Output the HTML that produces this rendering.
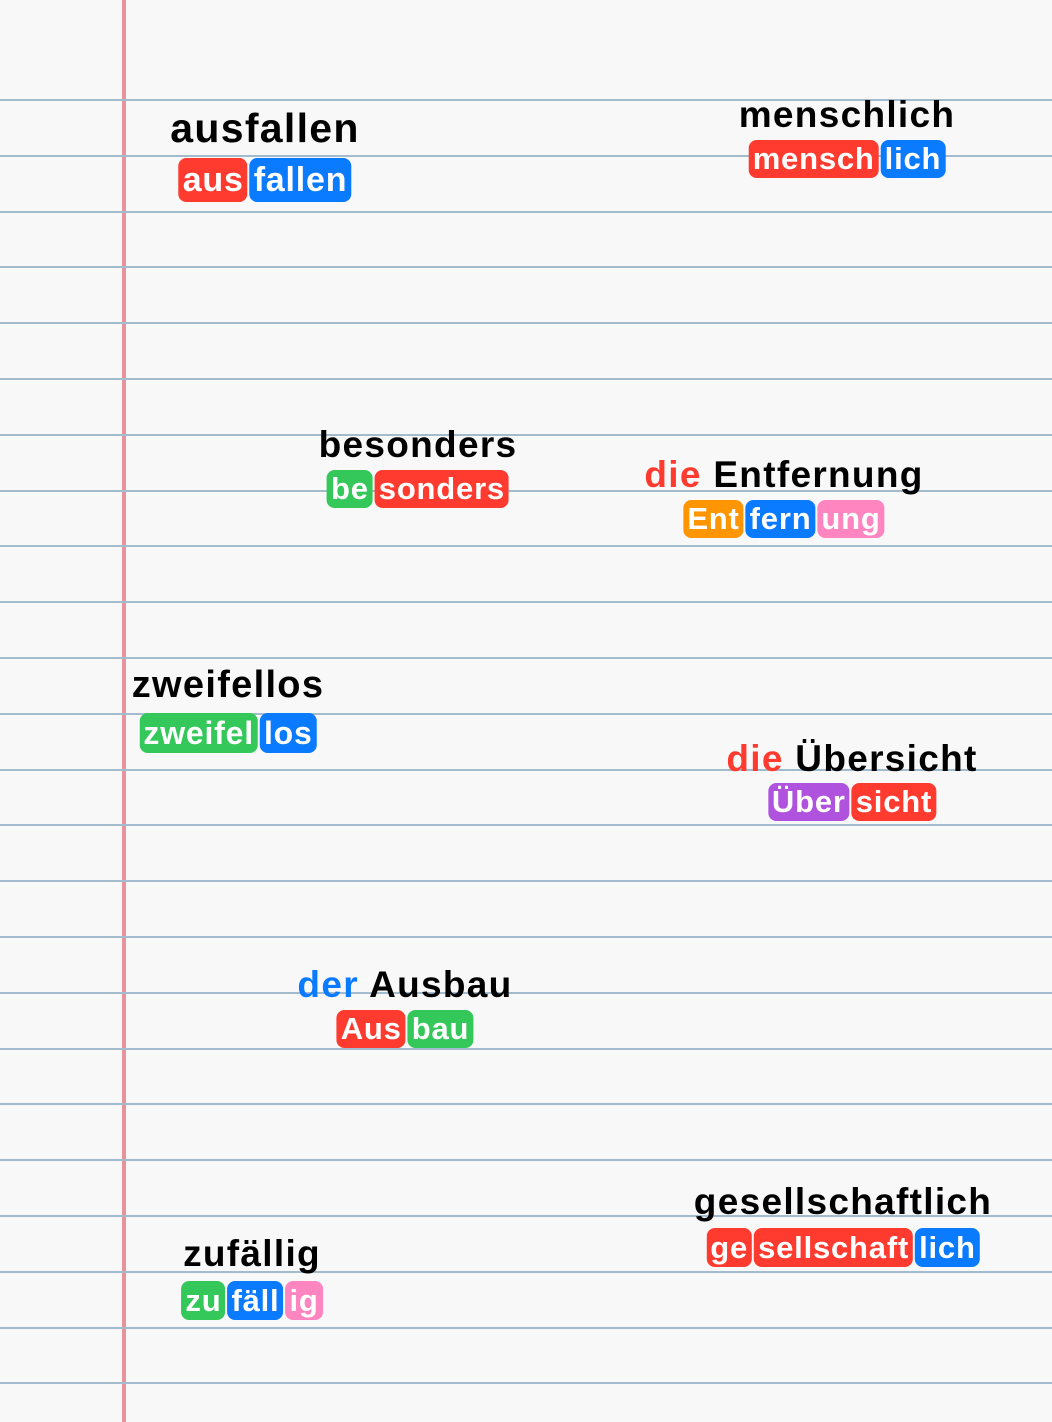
<!DOCTYPE html>
<html><head><meta charset="utf-8">
<style>
html,body{margin:0;padding:0;}
body{width:1052px;height:1422px;position:relative;overflow:hidden;background:#f8f8f8;font-family:"Liberation Sans",sans-serif;}
.hl{position:absolute;left:0;width:1052px;height:2px;background:#a3bccd;}
.margin{position:absolute;left:122px;top:0;width:4px;height:1422px;background:#e8939b;}
.entry{position:absolute;transform:translateX(-50%);display:flex;flex-direction:column;align-items:center;}
.title{font-weight:bold;white-space:nowrap;color:#000;line-height:1;letter-spacing:1.3px;}
.chips{display:flex;gap:2px;}
.chip{color:#fff;font-weight:bold;border-radius:8px;padding:0 4px;white-space:nowrap;display:flex;align-items:center;letter-spacing:0.8px;}
</style></head>
<body>
<div class="margin"></div>
<div id="lines"></div>
<div id="words"></div>
<script>
const lineCount = 24;
const linesEl = document.getElementById('lines');
for (let i = 0; i < lineCount; i++) {
  const l = document.createElement('div');
  l.className = 'hl';
  l.style.top = (99 + i * 55.8) + 'px';
  
  
  linesEl.appendChild(l);
}
const C = {r:'#ff3b30', b:'#0a7aff', g:'#34c759', o:'#ff9500', p:'#ff85c0', v:'#af52de'};
const words = [
  {x:265, ty:108, fs:41, art:null, word:'ausfallen', cy:158, ch:44, cfs:34, parts:[['aus','r'],['fallen','b']]},
  {x:847, ty:96, fs:37, art:null, word:'menschlich', cy:140, ch:38, cfs:31, parts:[['mensch','r'],['lich','b']]},
  {x:418, ty:426, fs:37, art:null, word:'besonders', cy:470, ch:38, cfs:31, parts:[['be','g'],['sonders','r']]},
  {x:784, ty:456, fs:37, art:['die','r'], word:'Entfernung', cy:500, ch:38, cfs:31, parts:[['Ent','o'],['fern','b'],['ung','p']]},
  {x:228, ty:666, fs:38, art:null, word:'zweifellos', cy:713, ch:40, cfs:32, parts:[['zweifel','g'],['los','b']]},
  {x:852, ty:740, fs:37, art:['die','r'], word:'Übersicht', cy:783, ch:38, cfs:31, parts:[['Über','v'],['sicht','r']]},
  {x:405, ty:966, fs:37, art:['der','b'], word:'Ausbau', cy:1010, ch:38, cfs:31, parts:[['Aus','r'],['bau','g']]},
  {x:843, ty:1183, fs:37, art:null, word:'gesellschaftlich', cy:1228, ch:39, cfs:31, parts:[['ge','r'],['sellschaft','r'],['lich','b']]},
  {x:252, ty:1235, fs:37, art:null, word:'zufällig', cy:1281, ch:39, cfs:31, parts:[['zu','g'],['fäll','b'],['ig','p']]}
];
const wEl = document.getElementById('words');
words.forEach(w => {
  const e = document.createElement('div');
  e.className = 'entry';
  e.style.left = w.x + 'px';
  e.style.top = w.ty + 'px';
  
  
  const t = document.createElement('div');
  t.className = 'title';
  t.style.fontSize = w.fs + 'px';
  
  
  if (w.art) {
    const a = document.createElement('span');
    a.textContent = w.art[0] + ' ';
    a.style.color = C[w.art[1]];
    
    
    t.appendChild(a);
  }
  t.appendChild(document.createTextNode(w.word));
  e.appendChild(t);
  const row = document.createElement('div');
  row.className = 'chips';
  row.style.position = 'absolute';
  row.style.top = (w.cy - w.ty) + 'px';
  
  
  w.parts.forEach(p => {
    const c = document.createElement('div');
    c.className = 'chip';
    c.textContent = p[0];
    c.style.background = C[p[1]];
    c.style.height = w.ch + 'px';
    c.style.fontSize = w.cfs + 'px';
    
    
    row.appendChild(c);
  });
  e.appendChild(row);
  wEl.appendChild(e);
});
</script>
</body></html>
